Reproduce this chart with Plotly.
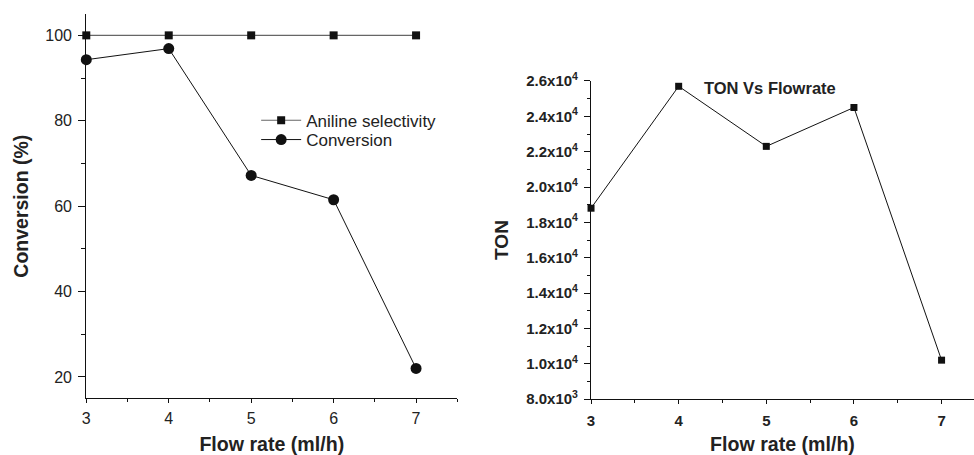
import plotly.graph_objects as go

flow = [3, 4, 5, 6, 7]
aniline_sel = [100, 100, 100, 100, 100]
conversion = [94.3, 96.9, 67.2, 61.5, 22.0]
ton = [18800, 25700, 22300, 24500, 10200]

ton_tickvals = [8000, 10000, 12000, 14000, 16000, 18000, 20000, 22000, 24000, 26000]
ton_ticktext = ["8.0x10<sup>3</sup>", "1.0x10<sup>4</sup>", "1.2x10<sup>4</sup>", "1.4x10<sup>4</sup>",
                "1.6x10<sup>4</sup>", "1.8x10<sup>4</sup>", "2.0x10<sup>4</sup>", "2.2x10<sup>4</sup>",
                "2.4x10<sup>4</sup>", "2.6x10<sup>4</sup>"]

FONT = "Liberation Sans, Arial, sans-serif"

fig = go.Figure()
fig.add_trace(go.Scatter(x=flow, y=aniline_sel, name="Aniline selectivity", mode="lines+markers",
                         line=dict(color="#666666", width=1.2),
                         marker=dict(symbol="square", size=8, color="#111111"),
                         xaxis="x", yaxis="y", cliponaxis=False, legend="legend"))
fig.add_trace(go.Scatter(x=flow, y=conversion, name="Conversion", mode="lines+markers",
                         line=dict(color="#111111", width=1),
                         marker=dict(symbol="circle", size=11, color="#111111"),
                         xaxis="x", yaxis="y", cliponaxis=False, legend="legend2"))
fig.add_trace(go.Scatter(x=flow, y=ton, name="TON", mode="lines+markers", showlegend=False,
                         line=dict(color="#111111", width=1),
                         marker=dict(symbol="square", size=7, color="#111111"),
                         xaxis="x2", yaxis="y2", cliponaxis=False))

axcommon = dict(showgrid=False, zeroline=False, showline=True, linecolor="#111111", linewidth=1.2,
                ticks="outside", tickcolor="#111111", automargin=False)

legcommon = dict(xanchor="left", yanchor="middle", bgcolor="rgba(0,0,0,0)",
                 font=dict(size=17, family=FONT, color="#222222"), itemwidth=40,
                 borderwidth=0)

fig.update_layout(
    template="none",
    width=974, height=455, autosize=False,
    margin=dict(l=0, r=0, t=0, b=0, pad=0),
    paper_bgcolor="white", plot_bgcolor="white",
    font=dict(family=FONT, color="#222222"),
    showlegend=True,
    legend=dict(legcommon, x=0.263, y=1 - 120.7 / 455),
    legend2=dict(legcommon, x=0.263, y=1 - 140.0 / 455),
    xaxis=dict(axcommon, domain=[0.0886, 0.4695], range=[3, 7.5], dtick=1, tick0=3,
               ticklen=4, ticklabelstandoff=1, anchor="y",
               minor=dict(ticks="outside", ticklen=3, dtick=0.5, tickcolor="#111111"),
               tickfont=dict(size=16),
               title=dict(text="<b>Flow rate (ml/h)</b>", font=dict(size=19.6, color="#222222"), standoff=21)),
    yaxis=dict(axcommon, domain=[0.1246, 0.9692], range=[15, 105], dtick=20, tick0=20,
               ticklen=7, ticklabelstandoff=3, anchor="x",
               minor=dict(ticks="outside", ticklen=4, dtick=10, tickcolor="#111111"),
               tickfont=dict(size=16),
               title=dict(text="<b>Conversion (%)</b>", font=dict(size=19.5, color="#222222"), standoff=11)),
    xaxis2=dict(axcommon, domain=[0.6068, 1.0], range=[3, 7.37], dtick=1, tick0=3,
                ticklen=4, ticklabelstandoff=4, anchor="y2",
                minor=dict(ticks="outside", ticklen=3, dtick=0.5, tickcolor="#111111"),
                tickfont=dict(size=15, weight="bold"),
                title=dict(text="<b>Flow rate (ml/h)</b>", font=dict(size=19.6, color="#222222"), standoff=19)),
    yaxis2=dict(axcommon, domain=[0.123, 0.822], range=[8000, 26000],
                tickmode="array", tickvals=ton_tickvals, ticktext=ton_ticktext,
                ticklen=6, ticklabelstandoff=3, anchor="x2",
                minor=dict(ticks="outside", ticklen=3, dtick=1000, tickcolor="#111111"),
                tickfont=dict(size=15, weight="bold"),
                title=dict(text="<b>TON</b>", font=dict(size=19, color="#222222"), standoff=12)),
    annotations=[dict(text="<b>TON Vs Flowrate</b>", x=5.04, y=25600, xref="x2", yref="y2",
                      showarrow=False, font=dict(size=16.5, family=FONT, color="#222222"))],
)

fig.write_html("out.html")
